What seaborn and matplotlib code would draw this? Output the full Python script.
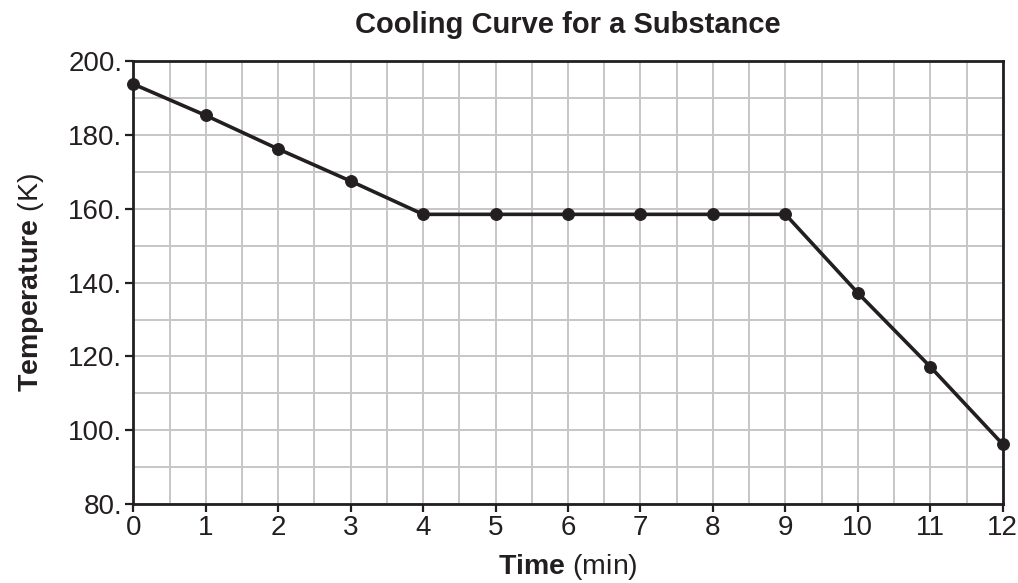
import pandas as pd
import numpy as np
import matplotlib.pyplot as plt
from matplotlib.ticker import MultipleLocator, FuncFormatter
import seaborn as sns

time_min = [0, 1, 2, 3, 4, 5, 6, 7, 8, 9, 10, 11, 12]
temperature_k = [193.8, 185.3, 176.2, 167.5, 158.5, 158.5, 158.5, 158.5, 158.5, 158.5, 137.2, 117.2, 96.2]

if __name__ == '__main__':
    sns.set_style("white")
    plt.rcParams["font.family"] = ["Liberation Sans", "DejaVu Sans"]
    plt.rcParams["mathtext.fontset"] = "custom"
    plt.rcParams["mathtext.rm"] = "Liberation Sans"
    plt.rcParams["mathtext.bf"] = "Liberation Sans:bold"

    ink = '#231f20'
    df = pd.DataFrame({'time': time_min, 'temp': temperature_k})

    fig, ax = plt.subplots(figsize=(10.18, 5.83), dpi=100)
    fig.subplots_adjust(left=0.131, right=0.985, top=0.895, bottom=0.1355)

    sns.lineplot(data=df, x='time', y='temp', ax=ax, color=ink, linewidth=2.6,
                 marker='o', markersize=8.5, markeredgecolor=ink, zorder=5, clip_on=False)

    ax.set_xlim(0, 12)
    ax.set_ylim(80, 200)
    ax.xaxis.set_major_locator(MultipleLocator(1))
    ax.xaxis.set_minor_locator(MultipleLocator(0.5))
    ax.yaxis.set_major_locator(MultipleLocator(20))
    ax.yaxis.set_minor_locator(MultipleLocator(10))
    ax.yaxis.set_major_formatter(FuncFormatter(lambda v, p: '%d.' % v))

    ax.grid(which='both', color='#c6c6c8', linewidth=1.4)
    ax.set_axisbelow(True)
    for s in ax.spines.values():
        s.set_color(ink)
        s.set_linewidth(2.0)

    ax.tick_params(which='major', direction='out', length=6, width=1.6, color=ink,
                   labelsize=20, labelcolor=ink, pad=2, left=True, bottom=True)
    ax.tick_params(which='minor', length=0)

    ax.set_title('Cooling Curve for a Substance', fontsize=21, fontweight='bold', color=ink, pad=20)
    ax.set_xlabel(r'$\mathbf{Time}$ (min)', fontsize=20.5, color=ink, labelpad=8)
    ax.set_ylabel(r'$\mathbf{Temperature}$ (K)', fontsize=20.5, color=ink, labelpad=16)

    fig.savefig('out.png', dpi=100)
